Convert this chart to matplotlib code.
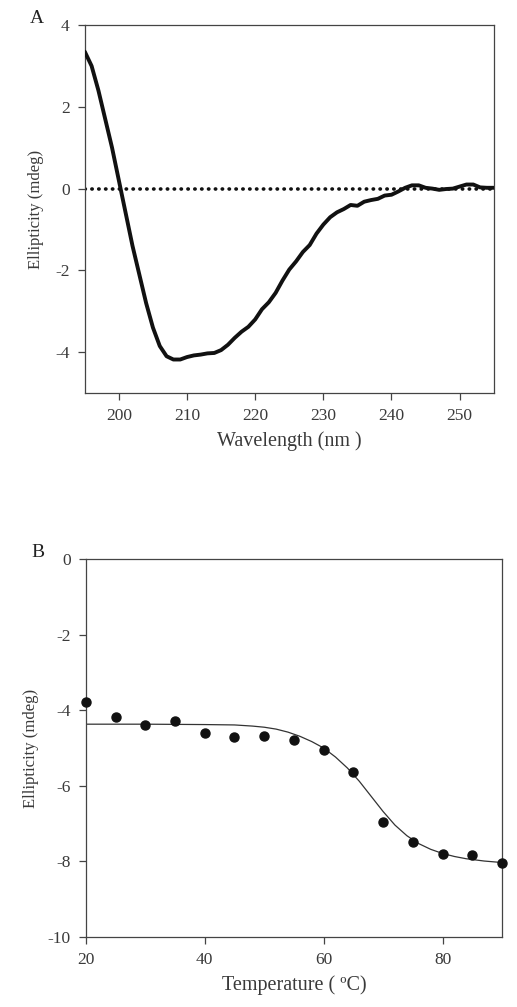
import numpy as np
import matplotlib
matplotlib.use("Agg")
import matplotlib.pyplot as plt

plt.rcParams['font.family'] = ['Liberation Serif', 'DejaVu Serif']

# Panel A: CD spectrum
wavelength = [195, 196, 197, 198, 199, 200, 201, 202, 203, 204, 205, 206, 207, 208, 209,
              210, 211, 212, 213, 214, 215, 216, 217, 218, 219, 220, 221, 222, 223, 224,
              225, 226, 227, 228, 229, 230, 231, 232, 233, 234, 235, 236, 237, 238, 239,
              240, 241, 242, 243, 244, 245, 246, 247, 248, 249, 250, 251, 252, 253, 254, 255]
ellipticity = [3.35, 3.0, 2.4, 1.7, 1.0, 0.2, -0.6, -1.4, -2.1, -2.8, -3.4, -3.85, -4.1, -4.18, -4.18,
               -4.12, -4.08, -4.06, -4.03, -4.02, -3.95, -3.82, -3.65, -3.5, -3.38, -3.2, -2.95, -2.78, -2.55, -2.25,
               -1.98, -1.78, -1.55, -1.38, -1.1, -0.88, -0.7, -0.58, -0.5, -0.4, -0.42, -0.32, -0.28, -0.25, -0.17,
               -0.15, -0.07, 0.02, 0.08, 0.08, 0.02, 0.0, -0.03, -0.01, 0.0, 0.05, 0.1, 0.1, 0.03, 0.02, 0.02]

# Panel B: thermal melt
temperature = [20, 25, 30, 35, 40, 45, 50, 55, 60, 65, 70, 75, 80, 85, 90]
melt = [-3.79, -4.17, -4.38, -4.28, -4.59, -4.70, -4.68, -4.79, -5.06, -5.64, -6.97, -7.49, -7.80, -7.84, -8.03]

# fitted curve
fit_t = [20, 30, 40, 45, 48, 50, 52, 54, 56, 58, 60, 62, 64, 66, 68, 70, 72, 74, 76, 78, 80, 82, 84, 87, 90]
fit_y = [-4.37, -4.37, -4.38, -4.39, -4.42, -4.45, -4.50, -4.58, -4.69, -4.83, -5.00, -5.24, -5.53, -5.88,
         -6.28, -6.68, -7.04, -7.32, -7.53, -7.68, -7.79, -7.87, -7.93, -7.99, -8.03]

ink = "#3a3a3a"

fig = plt.figure(figsize=(5.17, 10.07), dpi=100)
axA = fig.add_axes([0.164, 0.6097, 0.791, 0.3654])
axB = fig.add_axes([0.166, 0.0695, 0.805, 0.3754])

axA.plot(wavelength, ellipticity, color="#111111", lw=2.8, solid_capstyle="round", zorder=3)
axA.plot([195, 255], [0, 0], color="#111111", lw=2.6, linestyle=(0, (0.1, 1.8)),
         dash_capstyle="round", zorder=2)
axA.set_xlim(195, 255)
axA.set_ylim(-5, 4)
axA.set_xticks([200, 210, 220, 230, 240, 250])
axA.set_yticks([-4, -2, 0, 2, 4])
axA.set_yticklabels(["-4", "-2", "0", "2", "4"])
axA.set_xlabel("Wavelength (nm )", fontsize=14.5, color=ink, labelpad=5)
axA.set_ylabel("Ellipticity (mdeg)", fontsize=12, color=ink, labelpad=8)
fig.text(0.072, 0.982, "A", fontsize=14, color="#222222", va="center", ha="center")

axB.plot(fit_t, fit_y, color="#333333", lw=0.9, zorder=2)
axB.plot(temperature, melt, "o", color="#111111", ms=6.5, zorder=3, clip_on=False)
axB.set_xlim(20, 90)
axB.set_ylim(-10, 0)
axB.set_xticks([20, 40, 60, 80])
axB.set_yticks([-10, -8, -6, -4, -2, 0])
axB.set_yticklabels(["-10", "-8", "-6", "-4", "-2", "0"])
axB.set_xlabel("Temperature ( \u00baC)", fontsize=14.5, color=ink, labelpad=5)
axB.set_ylabel("Ellipticity (mdeg)", fontsize=12, color=ink, labelpad=6)
fig.text(0.074, 0.451, "B", fontsize=14, color="#222222", va="center", ha="center")

for ax in (axA, axB):
    for s in ax.spines.values():
        s.set_color("#444444")
        s.set_linewidth(0.9)
    ax.tick_params(direction="out", length=5, width=0.9, color="#444444",
                   labelsize=12.5, labelcolor=ink, top=False, right=False, pad=6)

fig.savefig("out.png", dpi=100)
